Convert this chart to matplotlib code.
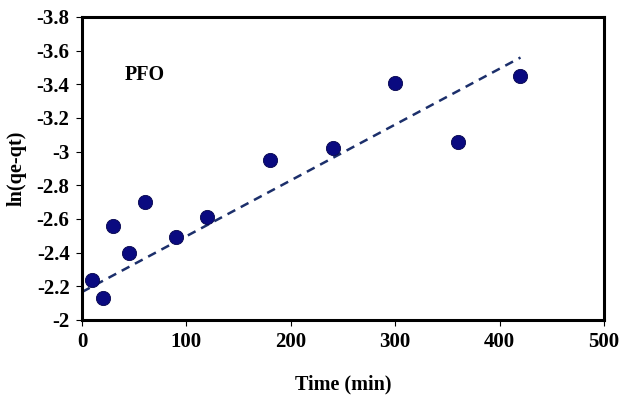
import numpy as np
import matplotlib.pyplot as plt

# time (min) and ln(qe-qt)
time_min = [10, 20, 30, 45, 60, 90, 120, 180, 240, 300, 360, 420]
ln_q = [-2.24, -2.13, -2.56, -2.40, -2.70, -2.49, -2.61, -2.95, -3.02, -3.41, -3.06, -3.45]

# linear trend line as drawn (intercept, slope) and its x range
trend_intercept = -2.166
trend_slope = -0.003317
trend_range = [0, 420]

xticks = [0, 100, 200, 300, 400, 500]
yticks = [-2, -2.2, -2.4, -2.6, -2.8, -3, -3.2, -3.4, -3.6, -3.8]

plt.rcParams['font.family'] = ['Liberation Serif', 'DejaVu Serif']
plt.rcParams['font.weight'] = 'bold'

fig = plt.figure(figsize=(6.19, 3.95), dpi=100)
ax = fig.add_axes([0.1325, 0.19, 0.8433, 0.767])

tx = np.array(trend_range)
ax.plot(tx, trend_intercept + trend_slope * tx, ls=(0, (3.5, 2.5)), color='#1c2f6b', lw=1.8, zorder=2)
ax.scatter(time_min, ln_q, s=105, color='#0a0a80', edgecolors='#05054d', linewidths=0.6, zorder=3)

ax.set_xlim(0, 500)
ax.set_ylim(-2, -3.8)
ax.set_xticks(xticks)
ax.set_yticks(yticks)
ax.set_yticklabels([('%g' % v) for v in yticks])

for s in ax.spines.values():
    s.set_linewidth(2.2)
ax.tick_params(direction='out', length=4, width=0.8, labelsize=15, pad=5)
for lab in ax.get_xticklabels() + ax.get_yticklabels():
    lab.set_fontweight('bold')

ax.set_xlabel('Time (min)', fontsize=14.5, fontweight='bold', labelpad=16)
ax.set_ylabel('ln(qe-qt)', fontsize=14.5, fontweight='bold', labelpad=7)
ax.text(0.082, 0.809, 'PFO', transform=ax.transAxes, fontsize=14.5, fontweight='bold', va='center', ha='left')

fig.savefig('out.png', dpi=100)
